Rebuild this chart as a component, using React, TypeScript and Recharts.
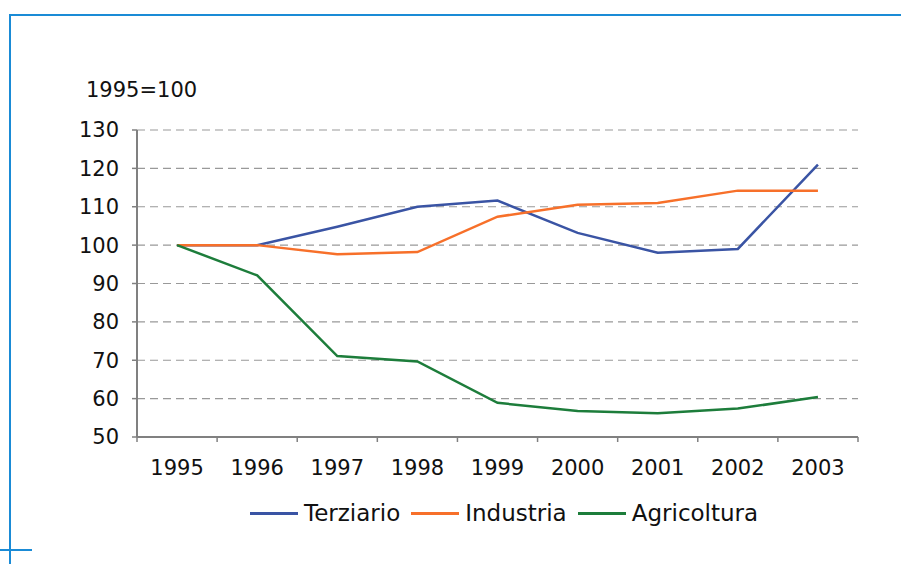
import { LineChart, Line, XAxis, YAxis, CartesianGrid, Legend } from 'recharts'

const YEARS = ['1995', '1996', '1997', '1998', '1999', '2000', '2001', '2002', '2003']
const TERZIARIO = [100, 100, 104.8, 110, 111.6, 103.2, 98.0, 99.0, 121.0]
const INDUSTRIA = [100, 100, 97.6, 98.2, 107.4, 110.5, 111.0, 114.2, 114.2]
const AGRICOLTURA = [100, 92.1, 71.1, 69.7, 58.9, 56.8, 56.2, 57.4, 60.4]
const Y_TICKS = [50, 60, 70, 80, 90, 100, 110, 120, 130]

const data = YEARS.map((y, i) => ({
  year: y, terziario: TERZIARIO[i], industria: INDUSTRIA[i], agricoltura: AGRICOLTURA[i],
}))

const W = 901
const H = 564
const M = { top: 130, right: 43, bottom: 0, left: 0 }
const Y_W = 137
const BAND = (W - Y_W - M.right) / YEARS.length
const FONT = 'DejaVu Sans, Verdana, sans-serif'
const AXIS_GRAY = '#808080'

const COLORS = { terziario: '#3A54A4', industria: '#F7702A', agricoltura: '#1D7D3B' }

function YearTick(props: any) {
  const { x, y, payload, index } = props
  const last = index === YEARS.length - 1
  return (
    <g>
      <line x1={x - BAND / 2} x2={x - BAND / 2} y1={y} y2={y + 5} stroke={AXIS_GRAY} strokeWidth={1.5} />
      {last && <line x1={x + BAND / 2} x2={x + BAND / 2} y1={y} y2={y + 5} stroke={AXIS_GRAY} strokeWidth={1.5} />}
      <text x={x} y={y + 38} textAnchor="middle" fontSize={21} fill="#111" fontFamily={FONT}>{payload.value}</text>
    </g>
  )
}

function LegendContent() {
  const items = [
    { key: 'terziario', label: 'Terziario' },
    { key: 'industria', label: 'Industria' },
    { key: 'agricoltura', label: 'Agricoltura' },
  ]
  return (
    <div style={{ display: 'flex', alignItems: 'center', paddingLeft: 250, fontFamily: FONT, fontSize: 23, color: '#111' }}>
      {items.map((it) => (
        <div key={it.key} style={{ display: 'flex', alignItems: 'center', marginRight: 11 }}>
          <div style={{ width: 48, height: 3, background: (COLORS as any)[it.key], marginRight: 6 }} />
          <span>{it.label}</span>
        </div>
      ))}
    </div>
  )
}

export default function App() {
  return (
    <div style={{ position: 'absolute', left: 0, top: 0, width: W, height: H, background: '#fff' }}>
      <div style={{ position: 'absolute', left: 10, top: 14, width: W - 10, height: 2, background: '#1A8BD6' }} />
      <div style={{ position: 'absolute', left: 9, top: 14, width: 2, height: H - 14, background: '#1A8BD6' }} />
      <div style={{ position: 'absolute', left: 0, top: 549, width: 32, height: 2, background: '#1A8BD6' }} />
      <div style={{ position: 'absolute', left: 86, top: 78, fontFamily: FONT, fontSize: 21, color: '#111' }}>1995=100</div>
      <LineChart width={W} height={H} data={data} margin={M} style={{ position: 'absolute', left: 0, top: 0 }}>
        <CartesianGrid vertical={false} stroke="#999" strokeDasharray="8 5" strokeWidth={1.2} />
        <XAxis
          dataKey="year"
          height={97}
          padding={{ left: BAND / 2, right: BAND / 2 }}
          tickLine={false}
          tickSize={0}
          tickMargin={0}
          interval={0}
          axisLine={{ stroke: AXIS_GRAY, strokeWidth: 2 }}
          tick={<YearTick />}
        />
        <XAxis xAxisId="top" orientation="top" dataKey="year" height={0} tick={false} tickLine={false}
          axisLine={{ stroke: AXIS_GRAY, strokeWidth: 2 }} padding={{ left: BAND / 2, right: BAND / 2 }} />
        <YAxis
          width={Y_W}
          domain={[50, 130]}
          ticks={Y_TICKS}
          interval={0}
          tickSize={5}
          tickMargin={13}
          tick={{ fontSize: 21, fill: '#111', fontFamily: FONT }}
          tickLine={{ stroke: AXIS_GRAY, strokeWidth: 1.5 }}
          axisLine={{ stroke: AXIS_GRAY, strokeWidth: 2 }}
        />
        <YAxis yAxisId="right" orientation="right" width={0} domain={[50, 130]} tick={false} tickLine={false}
          axisLine={{ stroke: AXIS_GRAY, strokeWidth: 2 }} />
        <Legend verticalAlign="bottom" content={<LegendContent />} wrapperStyle={{ top: 500, left: 0, width: W, height: 30 }} />
        <Line type="linear" dataKey="terziario" name="Terziario" stroke={COLORS.terziario} strokeWidth={2.5} dot={false} isAnimationActive={false} />
        <Line type="linear" dataKey="industria" name="Industria" stroke={COLORS.industria} strokeWidth={2.5} dot={false} isAnimationActive={false} />
        <Line type="linear" dataKey="agricoltura" name="Agricoltura" stroke={COLORS.agricoltura} strokeWidth={2.5} dot={false} isAnimationActive={false} />
      </LineChart>
    </div>
  )
}
